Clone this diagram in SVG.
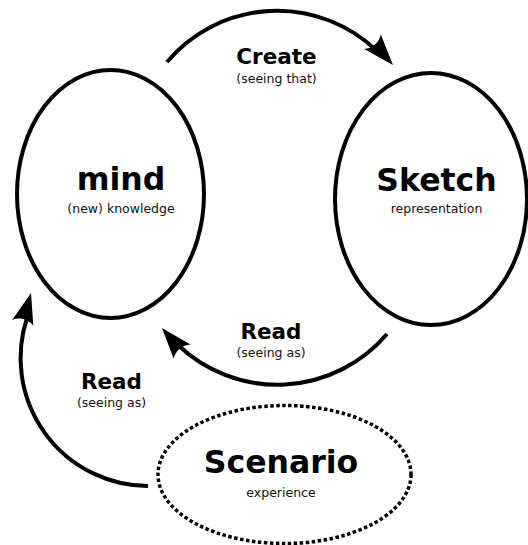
<svg xmlns="http://www.w3.org/2000/svg" xmlns:xlink="http://www.w3.org/1999/xlink" width="528" height="545" viewBox="0 0 528 545">
<style>
  .node { fill: none; stroke: #000; stroke-width: 4; }
  .dotted { fill: none; stroke: #000; stroke-width: 3.5; stroke-dasharray: 3.5 2.5; }
  .edge { fill: none; stroke: #000; stroke-width: 4; }
  .head { fill: #000; stroke: none; }
  .title { font-family: "DejaVu Sans", sans-serif; font-weight: bold; text-anchor: middle; fill: #000; }
  .sub { font-family: "DejaVu Sans", sans-serif; font-size: 12.5px; text-anchor: middle; fill: #111; }
  .big { font-size: 31.5px; }
  .lbl { font-size: 21.5px; }
</style>
<defs>
  <path id="ah" d="M0,0 L-31,-11 C-26,-4.5 -26,4.5 -31,11 Z"/>
</defs>
<rect width="528" height="545" fill="#fff"/>
<g id="mind">
  <ellipse class="node" cx="110.5" cy="194" rx="93.5" ry="124"/>
  <text class="title big" x="121" y="190">mind</text>
  <text class="sub" x="121" y="213">(new) knowledge</text>
</g>
<g id="sketch">
  <ellipse class="node" cx="431" cy="199" rx="96" ry="126"/>
  <text class="title big" x="436.5" y="191">Sketch</text>
  <text class="sub" x="436.5" y="213">representation</text>
</g>
<g id="scenario">
  <ellipse class="dotted" cx="284.5" cy="474.5" rx="126.5" ry="69"/>
  <text class="title big" x="281" y="473">Scenario</text>
  <text class="sub" x="281" y="497">experience</text>
</g>
<g id="connectors">
  <g id="create">
    <path class="edge" d="M167,62 A144,144 0 0 1 377,51"/>
    <use xlink:href="#ah" href="#ah" class="head" transform="translate(393,65) rotate(48.7)"/>
    <text class="title lbl" x="276.5" y="64">Create</text>
    <text class="sub" x="276.5" y="83">(seeing that)</text>
  </g>
  <g id="read-sketch-mind">
    <path class="edge" d="M387,334 A144,144 0 0 1 178,345"/>
    <use xlink:href="#ah" href="#ah" class="head" transform="translate(162,328) rotate(-130.4)"/>
    <text class="title lbl" x="271" y="339">Read</text>
    <text class="sub" x="271" y="357">(seeing as)</text>
  </g>
  <g id="read-scenario-mind">
    <path class="edge" d="M148,486 A128,128 0 0 1 27,318"/>
    <use xlink:href="#ah" href="#ah" class="head" transform="translate(31,293) rotate(-74.5)"/>
    <text class="title lbl" x="111.5" y="389">Read</text>
    <text class="sub" x="111.5" y="407">(seeing as)</text>
  </g>
</g>
</svg>
